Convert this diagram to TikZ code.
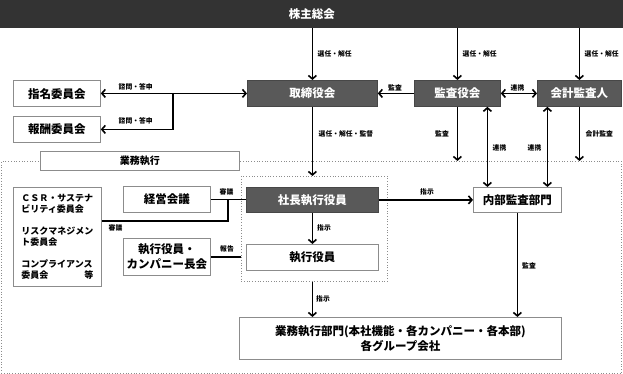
\documentclass[tikz,border=0pt]{standalone}
\usepackage{fontspec}
\setmainfont{Noto Sans CJK JP}
\usetikzlibrary{arrows.meta,calc}
\definecolor{topdark}{HTML}{333333}
\definecolor{boxdark}{HTML}{595959}
\definecolor{boxline}{HTML}{8C8C8C}
\tikzset{
  bx/.style={draw=boxline, line width=0.8pt, fill=white, inner sep=0pt, anchor=north west,
     font=\fontsize{11.5}{13.5}\selectfont\bfseries, align=center},
  dbx/.style={bx, fill=boxdark, draw=boxdark!80!black, text=white},
  dotbx/.style={draw=boxline, dotted, line width=0.7pt, inner sep=0pt, anchor=north west},
  lbl/.style={font=\fontsize{6.8}{7.8}\selectfont\bfseries, inner sep=0.5pt},
  arr/.style={line width=1.6pt, -{Straight Barb[length=3.5pt,width=8pt]}},
  arrb/.style={line width=1.6pt, {Straight Barb[length=3.5pt,width=8pt]}-{Straight Barb[length=3.5pt,width=8pt]}},
  ln/.style={line width=1.6pt},
}
\begin{document}
\begin{tikzpicture}[x=1pt,y=-1pt]
\useasboundingbox (0,0) rectangle (623,374);
% containers
\node[dotbx, minimum width=620pt, minimum height=212pt] (big) at (1,161) {};
\node[dotbx, minimum width=146pt, minimum height=105pt] (inner) at (241,176) {};
% top bar
\node[bx, fill=topdark, draw=topdark, text=white, minimum width=623pt, minimum height=27pt] (top) at (0,0) {株主総会};
% upper row
\node[dbx, minimum width=130pt, minimum height=26pt] (tori) at (247,80) {取締役会};
\node[dbx, minimum width=86pt, minimum height=26pt] (kansa) at (414,80) {監査役会};
\node[dbx, minimum width=84pt, minimum height=26pt] (kaikei) at (537,80) {会計監査人};
\node[bx, minimum width=87pt, minimum height=26pt] (shimei) at (13,80.5) {指名委員会};
\node[bx, minimum width=87pt, minimum height=26pt] (hoshu) at (13,116) {報酬委員会};
% execution
\node[bx, minimum width=199pt, minimum height=19pt, font=\fontsize{10}{12}\selectfont\bfseries] (gyomu) at (40,151) {業務執行};
\node[bx, minimum width=88pt, minimum height=99pt, text width=72pt, align=left,
      font=\fontsize{9}{11}\selectfont\bfseries] (csr) at (13,187)
  {ＣＳＲ・サステナ\\ビリティ委員会\\[11pt]リスクマネジメン\\ト委員会\\[11pt]コンプライアンス\\委員会\hfill 等};
\node[bx, minimum width=87pt, minimum height=26pt] (keiei) at (123,186) {経営会議};
\node[bx, minimum width=87pt, minimum height=37pt, font=\fontsize{11.5}{15}\selectfont\bfseries] (kaicho) at (123,238) {執行役員・\\カンパニー長会};
\node[dbx, minimum width=132pt, minimum height=25pt] (shacho) at (246,187) {社長執行役員};
\node[bx, minimum width=132pt, minimum height=26pt] (shikko) at (246,244) {執行役員};
\node[bx, minimum width=88pt, minimum height=25pt] (naibu) at (473,187) {内部監査部門};
\node[bx, minimum width=322pt, minimum height=42pt, font=\fontsize{11.5}{15}\selectfont\bfseries] (bumon) at (239,317)
  {業務執行部門(本社機能・各カンパニー・各本部)\\各グループ会社};
% connectors from top
\draw[arr] (top.south -| tori) -- (tori.north);
\draw[arr] (top.south -| kansa) -- (kansa.north);
\draw[arr] (top.south -| kaikei) -- (kaikei.north);
\node[lbl, anchor=west] (t1) at (317,54) {選任・解任};
\node[lbl, anchor=west] (t2) at (462,54) {選任・解任};
\node[lbl, anchor=west] (t3) at (584,54) {選任・解任};
% board row
\draw[arr] (kansa.west) -- (kansa.west -| tori.east);
\node[lbl] (t4) at (395,88) {監査};
\draw[arrb] (kansa.east) -- (kansa.east -| kaikei.west);
\node[lbl] (t5) at (517.5,88) {連携};
\coordinate (j1) at (173,93);
\draw[arrb] (tori.west -| shimei.east) -- (tori.west);
\draw[arr] (j1) |- (hoshu.east);
\node[lbl, anchor=west] (t6) at (118,87) {諮問・答申};
\node[lbl, anchor=west] (t7) at (118,121) {諮問・答申};
% down from board
\draw[arr] (tori.south) -- (tori.south |- inner.north);
\node[lbl, anchor=west] (t8) at (318,134) {選任・解任・監督};
\draw[arr] (kansa.south) -- (kansa.south |- big.north);
\node[lbl] (t9) at (442,134) {監査};
\draw[arrb] ([xshift=30pt]kansa.south) -- ([xshift=30pt]kansa.south |- naibu.north);
\node[lbl, anchor=west] (t10) at (492,148) {連携};
\draw[arrb] ([xshift=-32pt]kaikei.south) -- ([xshift=-32pt]kaikei.south |- naibu.north);
\node[lbl, anchor=east] (t11) at (542,148) {連携};
\draw[arr] (kaikei.south) -- (kaikei.south |- big.north);
\node[lbl, anchor=west] (t12) at (585,134) {会計監査};
% execution connectors
\coordinate (j2) at (228,199);
\coordinate (j3) at (228,221);
\draw[ln] (keiei.east) -- (keiei.east -| shacho.west);
\draw[ln] (csr.east |- j3) -| (j2);
\node[lbl] (t13) at (226.5,192) {審議};
\node[lbl] (t14) at (115.5,228) {審議};
\draw[ln] (kaicho.east) -- (kaicho.east -| inner.west);
\node[lbl] (t15) at (227,249) {報告};
\draw[arr] (shacho.south) -- (shikko.north);
\node[lbl] (t16) at (324,228) {指示};
\draw[arr] (inner.south -| shacho) -- (bumon.north -| shacho);
\node[lbl] (t17) at (323,299) {指示};
\draw[arr] (shacho.east) -- (shacho.east -| naibu.west);
\node[lbl] (t18) at (427,192) {指示};
\draw[arr] (naibu.south) -- (naibu.south |- bumon.north);
\node[lbl] (t19) at (529,266) {監査};
\end{tikzpicture}
\end{document}
